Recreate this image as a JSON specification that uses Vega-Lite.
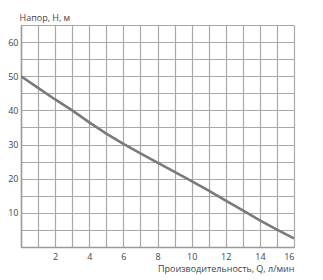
{
  "$schema": "https://vega.github.io/schema/vega-lite/v6.json",
  "width": 273,
  "height": 222,
  "autosize": "none",
  "padding": {"left": 21, "top": 25, "right": 29, "bottom": 33},
  "background": "white",
  "config": {"view": {"stroke": null}, "font": "Open Sans"},
  "data": {"values": [
    {"q": 0, "h": 50}, {"q": 1, "h": 46.6}, {"q": 2, "h": 43.2}, {"q": 3, "h": 40},
    {"q": 4, "h": 36.5}, {"q": 5, "h": 33.2}, {"q": 6, "h": 30.2}, {"q": 7, "h": 27.4},
    {"q": 8, "h": 24.7}, {"q": 9, "h": 22}, {"q": 10, "h": 19.3}, {"q": 11, "h": 16.5},
    {"q": 12, "h": 13.6}, {"q": 13, "h": 10.7}, {"q": 14, "h": 7.8}, {"q": 15, "h": 5.1},
    {"q": 16, "h": 2.5}
  ]},
  "mark": {"type": "line", "color": "#7a7a7a", "strokeWidth": 2.6, "clip": true},
  "encoding": {
    "x": {
      "field": "q", "type": "quantitative",
      "scale": {"domain": [0, 16], "nice": false, "zero": false},
      "axis": {
        "values": [0,1,2,3,4,5,6,7,8,9,10,11,12,13,14,15,16],
        "labelExpr": "datum.value % 2 == 0 && datum.value > 0 ? datum.label : ''",
        "ticks": false, "labelPadding": 5, "labelFontSize": 9, "labelColor": "#444",
        "grid": true, "gridColor": "#a8a8a8", "gridWidth": 1.2, "gridOpacity": 1,
        "domainColor": "#9a9a9a", "domainWidth": 1.5,
        "title": "Производительность, Q, л/мин",
        "titleFontSize": 9, "titleFontWeight": "normal", "titleColor": "#444",
        "titleX": 273, "titleY": 21, "titleAlign": "right", "titleBaseline": "middle"
      }
    },
    "y": {
      "field": "h", "type": "quantitative",
      "scale": {"domain": [0, 65], "nice": false, "zero": false},
      "axis": {
        "values": [0,5,10,15,20,25,30,35,40,45,50,55,60,65],
        "labelExpr": "datum.value % 10 == 0 && datum.value > 0 && datum.value < 65 ? datum.label : ''",
        "ticks": false, "labelPadding": 3, "labelFontSize": 9, "labelColor": "#444",
        "grid": true, "gridColor": "#a8a8a8", "gridWidth": 1.2, "gridOpacity": 1,
        "domainColor": "#9a9a9a", "domainWidth": 1.5,
        "title": "Напор, Н, м",
        "titleFontSize": 9, "titleFontWeight": "normal", "titleColor": "#444",
        "titleAngle": 0, "titleX": -2, "titleY": -8, "titleAlign": "left", "titleBaseline": "middle"
      }
    }
  }
}
